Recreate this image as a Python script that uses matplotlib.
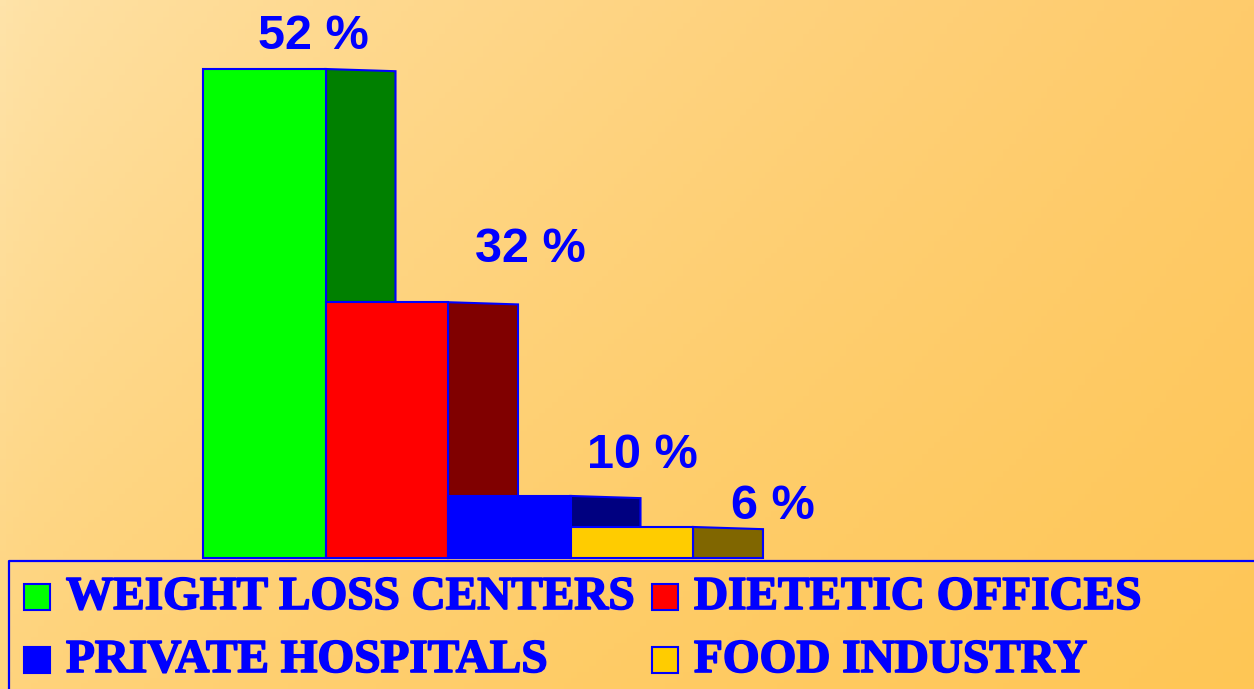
import numpy as np
import matplotlib.pyplot as plt
import matplotlib.patheffects as pe
from matplotlib.patches import Polygon, Rectangle

#####################################################################################
# data
categories = ['WEIGHT LOSS CENTERS', 'DIETETIC OFFICES', 'PRIVATE HOSPITALS', 'FOOD INDUSTRY']
labels = ['52 %', '32 %', '10 %', '6 %']
heights = [52, 27.2, 6.6, 3.3]   # drawn bar heights

front_colors = ['#00FF00', '#FF0000', '#0000FF', '#FFCC00']
side_colors = ['#008000', '#800000', '#000080', '#806600']
edge = '#0000FF'

# label placement: (offset from bar start, baseline)
label_dx = [0.90, 1.67, 1.59, 1.65]
label_y = [54.1, 31.5, 9.6, 4.2]

#####################################################################################
W, H = 1254, 689
fig = plt.figure(figsize=(W / 100, H / 100), dpi=100)

# background gradient
bg = fig.add_axes([0, 0, 1, 1], zorder=0)
bg.axis('off')
tl = np.array([254, 227, 169]) / 255
tr = np.array([254, 203, 108]) / 255
bl = np.array([255, 212, 126]) / 255
br = np.array([255, 198, 85]) / 255
u = np.linspace(0, 1, 200)[None, :, None] ** 0.7
v = np.linspace(0, 1, 120)[:, None, None]
img = (1 - v) * ((1 - u) * tl + u * tr) + v * ((1 - u) * bl + u * br)
bg.imshow(img, aspect='auto', extent=[0, 1, 0, 1])
bg.set_xlim(0, 1)
bg.set_ylim(0, 1)

#####################################################################################
# bar axes: one unit = front width (122.5 px), y baseline at pixel 558
px_x = 122.5
px_y = 489 / 52
x0, base = 203, 558
ax = fig.add_axes([0, 0, 1, 1], zorder=1)
ax.patch.set_alpha(0)
ax.axis('off')
ax.set_xlim(-x0 / px_x, (W - x0) / px_x)
ax.set_ylim(-(H - base) / px_y, base / px_y)

depth = 70 / px_x
drop = 2.2 / px_y
for i, h in enumerate(heights):
    ax.bar(i, h, width=1, align='edge', color=front_colors[i], edgecolor=edge,
           linewidth=1.5, zorder=2 * i + 2)
    side = Polygon([(i + 1, 0), (i + 1 + depth, 0), (i + 1 + depth, h - drop), (i + 1, h)],
                   closed=True, facecolor=side_colors[i], edgecolor=edge, linewidth=1.5,
                   zorder=2 * i + 1.5)
    ax.add_patch(side)
    ax.text(i + label_dx[i], label_y[i], labels[i], ha='center', va='baseline',
            fontsize=35, fontweight='bold', color=edge, family='Liberation Sans', zorder=20)

#####################################################################################
# legend box in pixel coords
lax = fig.add_axes([0, 0, 1, 1], zorder=3)
lax.patch.set_alpha(0)
lax.axis('off')
lax.set_xlim(0, W)
lax.set_ylim(H, 0)
lax.plot([9, 9, W + 5], [H + 5, 561, 561], color=edge, lw=1.6, solid_capstyle='butt')

sq_x = [24, 652, 24, 652]
row_y = [597, 660]
thick = [pe.withStroke(linewidth=1.2, foreground=edge)]
for i, name in enumerate(categories):
    cx = sq_x[i]
    cy = row_y[i // 2]
    lax.add_patch(Rectangle((cx, cy - 13), 26, 26, facecolor=front_colors[i],
                            edgecolor=edge, linewidth=1.5))
    lax.text(cx + 42, cy + 1, name, ha='left', va='center', fontsize=34, fontweight='bold',
             color=edge, family='Liberation Serif', path_effects=thick)

fig.savefig('out.png', dpi=100)
